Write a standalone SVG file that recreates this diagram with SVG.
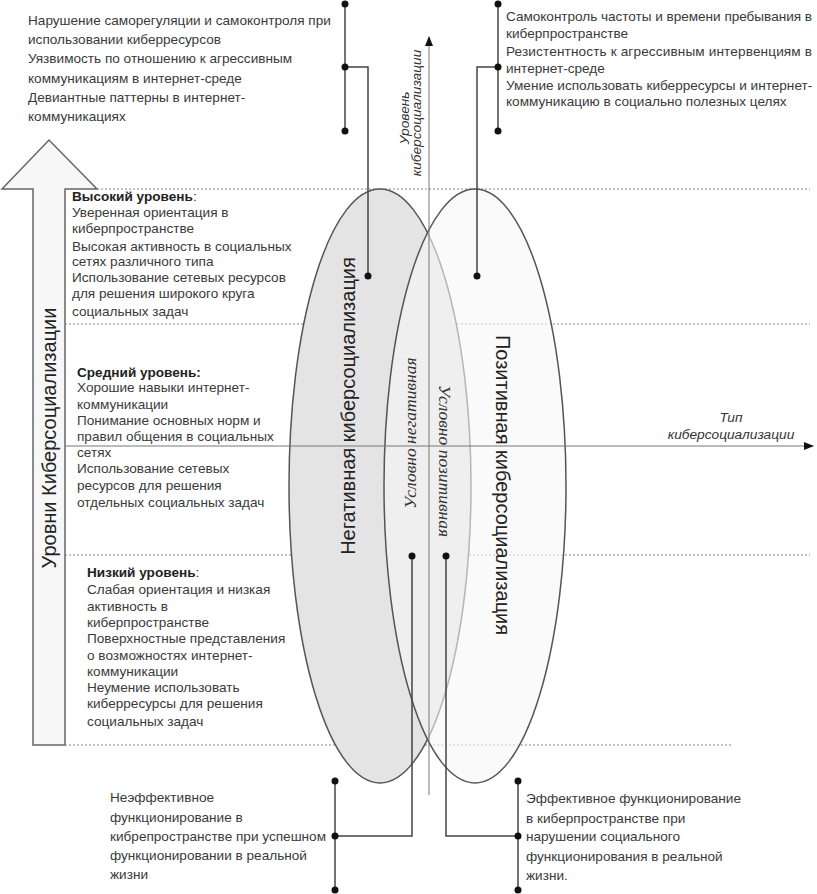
<svg xmlns="http://www.w3.org/2000/svg" width="817" height="894" viewBox="0 0 817 894">
<style>
.t{font-family:"Liberation Sans",Arial,sans-serif;font-size:13.6px;fill:#3a3a3a}
.b{font-weight:bold;fill:#222}
.ax{font-family:"Liberation Sans",Arial,sans-serif;font-size:13.7px;font-style:italic;fill:#333}
.big{font-family:"Liberation Sans",Arial,sans-serif;font-size:20px;fill:#222}
.ser{font-family:"Liberation Serif","Times New Roman",serif;font-size:17.5px;font-style:italic;fill:#333}
.dot{stroke:#888;stroke-width:1;stroke-dasharray:2,2;fill:none}
.cn{stroke:#444;stroke-width:1.5;fill:none}
.axl{stroke:#777;stroke-width:1;fill:none}
</style>
<defs>
<marker id="ah" viewBox="0 0 10 10" refX="9" refY="5" markerWidth="10" markerHeight="10" markerUnits="userSpaceOnUse" orient="auto">
<path d="M0,1 L10,5 L0,9 z" fill="#111"/>
</marker>
<circle id="d" r="3.5" fill="#111"/>
</defs>
<rect width="817" height="894" fill="#fff"/>

<g id="levels-arrow">
<polygon points="33,745 33,189 2,189 49,140 97,189 65,189 65,745" fill="#f7f7f7" stroke="#666" stroke-width="1.5"/>
<text class="big" font-size="21" transform="translate(56,438) rotate(-90)" text-anchor="middle">Уровни Киберсоциализации</text>
</g>

<g id="grid">
<line class="dot" x1="65" y1="189" x2="810" y2="189"/>
<line class="dot" x1="65" y1="324" x2="810" y2="324"/>
<line class="dot" x1="65" y1="555" x2="810" y2="555"/>
<line class="dot" x1="65" y1="745" x2="733" y2="745"/>
</g>

<g id="negative">
<ellipse cx="380" cy="486" rx="91" ry="297" fill="#e4e4e4" stroke="#555" stroke-width="1.5"/>
</g>
<g id="positive">
<ellipse cx="475" cy="486" rx="91" ry="297" fill="#f7f7f7" fill-opacity="0.6" stroke="#555" stroke-width="1.5"/>
</g>

<g id="axes">
<line class="axl" x1="429" y1="795" x2="429" y2="37" marker-end="url(#ah)"/>
<line class="axl" x1="65" y1="446" x2="813" y2="446" marker-end="url(#ah)"/>
<text class="ax" font-size="14" transform="translate(409,118) rotate(-90)" text-anchor="middle">Уровень</text>
<text class="ax" font-size="14" transform="translate(421,113) rotate(-90)" text-anchor="middle">киберсоциализации</text>
<text class="ax" x="731" y="422" text-anchor="middle">Тип</text>
<text class="ax" x="731" y="439" text-anchor="middle">киберсоциализации</text>
</g>

<g id="labels">
<text class="big" transform="translate(355,406) rotate(-90)" text-anchor="middle">Негативная киберсоциализация</text>
<text class="big" transform="translate(496,485) rotate(90)" text-anchor="middle">Позитивная киберсоциализация</text>
<text class="ser" transform="translate(416,433) rotate(-90)" text-anchor="middle">Условно негативная</text>
<text class="ser" transform="translate(439,461) rotate(90)" text-anchor="middle">Условно позитивная</text>
</g>

<g id="connectors">
<line class="cn" x1="345" y1="4" x2="345" y2="131"/>
<polyline class="cn" points="345,67 368,67 368,276"/>
<use href="#d" x="345" y="4"/><use href="#d" x="345" y="67"/><use href="#d" x="345" y="131"/><use href="#d" x="368" y="276"/>
<line class="cn" x1="498" y1="4" x2="498" y2="131"/>
<polyline class="cn" points="498,67 477,67 477,276"/>
<use href="#d" x="498" y="4"/><use href="#d" x="498" y="67"/><use href="#d" x="498" y="131"/><use href="#d" x="477" y="276"/>
<line class="cn" x1="335" y1="781" x2="335" y2="890"/>
<polyline class="cn" points="335,836 412,836 412,556"/>
<use href="#d" x="335" y="781"/><use href="#d" x="335" y="836"/><use href="#d" x="335" y="890"/><use href="#d" x="412" y="556"/>
<line class="cn" x1="518" y1="781" x2="518" y2="890"/>
<polyline class="cn" points="518,836 446,836 446,556"/>
<use href="#d" x="518" y="781"/><use href="#d" x="518" y="836"/><use href="#d" x="518" y="890"/><use href="#d" x="446" y="556"/>
</g>

<g id="top-left-text">
<text class="t" x="28" y="25">Нарушение саморегуляции и самоконтроля при</text>
<text class="t" x="28" y="44">использовании киберресурсов</text>
<text class="t" x="28" y="63">Уязвимость по отношению к агрессивным</text>
<text class="t" x="28" y="83">коммуникациям в интернет-среде</text>
<text class="t" x="28" y="102">Девиантные паттерны в интернет-</text>
<text class="t" x="28" y="121">коммуникациях</text>
</g>

<g id="top-right-text">
<text class="t" x="506" y="21" textLength="306" lengthAdjust="spacing">Самоконтроль частоты и времени пребывания в</text>
<text class="t" x="506" y="38">киберпространстве</text>
<text class="t" x="506" y="56" textLength="306" lengthAdjust="spacing">Резистентность к агрессивным интервенциям в</text>
<text class="t" x="506" y="73">интернет-среде</text>
<text class="t" x="506" y="90">Умение использовать киберресурсы и интернет-</text>
<text class="t" x="506" y="106">коммуникацию в социально полезных целях</text>
</g>

<g id="high-level">
<text class="t" x="72" y="201"><tspan class="b">Высокий уровень</tspan>:</text>
<text class="t" x="72" y="217">Уверенная ориентация в</text>
<text class="t" x="72" y="233">киберпространстве</text>
<text class="t" x="72" y="251">Высокая активность в социальных</text>
<text class="t" x="72" y="266">сетях различного типа</text>
<text class="t" x="72" y="282">Использование  сетевых ресурсов</text>
<text class="t" x="72" y="298">для решения широкого круга</text>
<text class="t" x="72" y="316">социальных задач</text>
</g>

<g id="middle-level">
<text class="t b" x="77" y="377">Средний уровень:</text>
<text class="t" x="77" y="392">Хорошие навыки интернет-</text>
<text class="t" x="77" y="409">коммуникации</text>
<text class="t" x="77" y="425">Понимание основных норм и</text>
<text class="t" x="77" y="441">правил общения в социальных</text>
<text class="t" x="77" y="457">сетях</text>
<text class="t" x="77" y="473">Использование сетевых</text>
<text class="t" x="77" y="490">ресурсов для решения</text>
<text class="t" x="77" y="507">отдельных социальных задач</text>
</g>

<g id="low-level">
<text class="t" x="87" y="577"><tspan class="b">Низкий уровень</tspan>:</text>
<text class="t" x="87" y="594">Слабая ориентация и низкая</text>
<text class="t" x="87" y="611">активность в</text>
<text class="t" x="87" y="627">киберпространстве</text>
<text class="t" x="87" y="643">Поверхностные представления</text>
<text class="t" x="87" y="660">о возможностях интернет-</text>
<text class="t" x="87" y="676">коммуникации</text>
<text class="t" x="87" y="692">Неумение использовать</text>
<text class="t" x="87" y="708">киберресурсы для решения</text>
<text class="t" x="87" y="726">социальных задач</text>
</g>

<g id="bottom-left-text">
<text class="t" x="110" y="802">Неэффективное</text>
<text class="t" x="110" y="822">функционирование в</text>
<text class="t" x="110" y="841">кибрепространстве при успешном</text>
<text class="t" x="110" y="860">функционировании в реальной</text>
<text class="t" x="110" y="879">жизни</text>
</g>

<g id="bottom-right-text">
<text class="t" x="526" y="803">Эффективное функционирование</text>
<text class="t" x="526" y="823">в киберпространстве при</text>
<text class="t" x="526" y="841">нарушении социального</text>
<text class="t" x="526" y="861">функционирования в реальной</text>
<text class="t" x="526" y="880">жизни.</text>
</g>
</svg>
